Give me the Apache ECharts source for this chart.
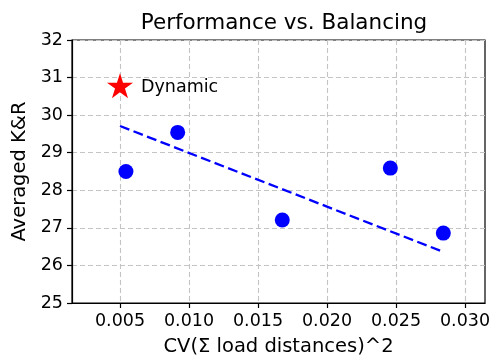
<!DOCTYPE html>
<html><head><meta charset="utf-8">
<script src="https://cdn.jsdelivr.net/npm/echarts@6/dist/echarts.min.js"></script>
<style>html,body{margin:0;padding:0;background:#fff}#c{width:492px;height:358px}</style>
</head><body><div id="c"></div>
<script>
const cvValues = [0.00543, 0.00918, 0.01676, 0.02459, 0.02843];
const krValues = [28.50, 29.54, 27.21, 28.59, 26.86];
const dynamicPoint = [0.005, 30.78];
const dynamicLabel = 'Dynamic';
const trendX = [0.005, 0.02843];
const trendY = [29.71, 26.36];
const xTicks = [0.005, 0.010, 0.015, 0.020, 0.025, 0.030];
const yTicks = [25, 26, 27, 28, 29, 30, 31, 32];

const F = 'DejaVu Sans';
const chart = echarts.init(document.getElementById('c'), null, {renderer: 'canvas'});
chart.setOption({
  animation: false,
  title: {text: 'Performance vs. Balancing', top: 7, left: 279, textAlign: 'center',
    textStyle: {fontFamily: F, fontSize: 21.5, fontWeight: 'normal', color: '#000'}},
  grid: {left: 72, right: 7, top: 40, bottom: 55, show: true, borderColor: '#000', borderWidth: 1.2,
    outerBoundsMode: 'none', containLabel: false},
  xAxis: {type: 'value', min: 0.001522, max: 0.03145,
    name: 'CV(Σ load distances)^2', nameLocation: 'middle', nameGap: 34,
    nameTextStyle: {fontFamily: F, fontSize: 19.5, color: '#000'},
    axisLine: {show: true, lineStyle: {color: '#000', width: 1.2}},
    axisTick: {show: true, customValues: xTicks, length: 5, inside: false, lineStyle: {color: '#000', width: 1.2}},
    axisLabel: {customValues: xTicks, fontFamily: F, fontSize: 17.5, color: '#000', margin: 9,
      formatter: v => v.toFixed(3)},
    splitLine: {show: true, lineStyle: {color: '#c4c4c4', width: 1.1, type: [5, 3]}}},
  yAxis: {type: 'value', min: 25, max: 32, interval: 1,
    name: 'Averaged K&R', nameLocation: 'middle', nameGap: 36,
    nameTextStyle: {fontFamily: F, fontSize: 19.5, color: '#000'},
    axisLine: {show: true, lineStyle: {color: '#000', width: 1.2}},
    axisTick: {show: true, length: 5, lineStyle: {color: '#000', width: 1.2}},
    axisLabel: {fontFamily: F, fontSize: 17.5, color: '#000', margin: 9,
      formatter: v => String(v)},
    splitLine: {show: true, lineStyle: {color: '#c4c4c4', width: 1.1, type: [5, 3]}}},
  series: [
    {type: 'line', data: trendX.map((x, i) => [x, trendY[i]]), symbol: 'none',
     lineStyle: {color: '#0000ff', width: 2.3, type: [10, 4.5]}, z: 3},
    {type: 'scatter', data: cvValues.map((x, i) => [x, krValues[i]]), symbolSize: 15,
     itemStyle: {color: '#0000ff', opacity: 1}, z: 4},
    {type: 'scatter', data: [dynamicPoint], symbol: 'path://M50,0 L61.8,35.5 L100,35.5 L69.1,57.5 L80.9,95 L50,72 L19.1,95 L30.9,57.5 L0,35.5 L38.2,35.5 Z',
     symbolSize: [26, 25], itemStyle: {color: '#ff0000', opacity: 1}, z: 5,
     label: {show: true, position: 'right', distance: 8, offset: [0, 2], formatter: dynamicLabel,
       fontFamily: F, fontSize: 17.5, color: '#000'}}
  ]
});
</script></body></html>
